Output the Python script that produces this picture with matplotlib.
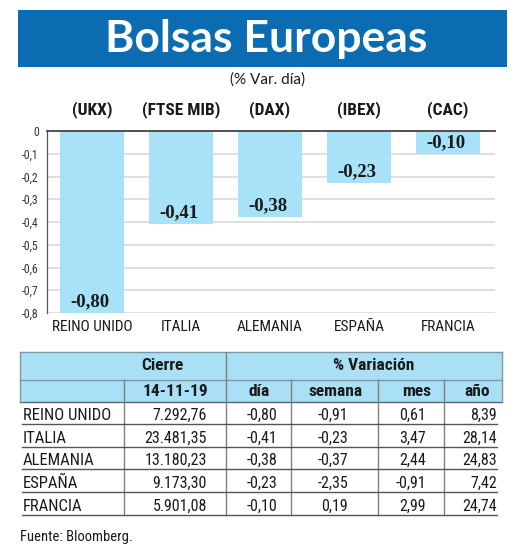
import numpy as np
import matplotlib
matplotlib.use("Agg")
import matplotlib.pyplot as plt
from matplotlib import font_manager as fm
from matplotlib.patches import Rectangle

# ---------------- data ----------------
countries = ["REINO UNIDO", "ITALIA", "ALEMANIA", "ESPAÑA", "FRANCIA"]
tickers = ["(UKX)", "(FTSE MIB)", "(DAX)", "(IBEX)", "(CAC)"]
cierre = ["7.292,76", "23.481,35", "13.180,23", "9.173,30", "5.901,08"]
dia = [-0.80, -0.41, -0.38, -0.23, -0.10]
semana = [-0.91, -0.23, -0.37, -2.35, 0.19]
mes = [0.61, 3.47, 2.44, -0.91, 2.99]
ano = [8.39, 28.14, 24.83, 7.42, 24.74]
yticks = [0, -0.1, -0.2, -0.3, -0.4, -0.5, -0.6, -0.7, -0.8]
title = "Bolsas Europeas"
subtitle = "(% Var. día)"
fecha = "14-11-19"
source = "Fuente: Bloomberg."

def fmt(v, dec=2):
    return f"{v:.{dec}f}".replace(".", ",")

names = {f.name for f in fm.fontManager.ttflist}
COND = "Lato"
for cand in ["Liberation Sans Narrow", "Roboto Condensed", "Open Sans Condensed",
             "Noto Sans Condensed", "Arial Narrow"]:
    if cand in names:
        COND = cand
        break
SANS = "Lato"

W, H = 520, 557
fig = plt.figure(figsize=(W / 100, H / 100), dpi=100)
fig.patch.set_facecolor("white")

bg = fig.add_axes([0, 0, 1, 1])
bg.set_xlim(0, W)
bg.set_ylim(H, 0)
bg.axis("off")

BLUE = "#0b6cb2"
LIGHT = "#a7e2f8"
HEAD = "#a9e0f6"
TXT = "#1a1a1a"

# title band
bg.add_patch(Rectangle((18, 10), 489, 57, color=BLUE, lw=0))
bg.text(266, 39, title, color="white", fontsize=32, fontweight="bold",
        family=SANS, ha="center", va="center")
bg.text(268, 80, subtitle, color=TXT, fontsize=11, family=SANS,
        ha="center", va="center")

# ---------------- chart ----------------
ax = fig.add_axes([47 / W, 1 - 313 / H, (495 - 47) / W, (313 - 131) / H])
ax.set_facecolor("none")
x = np.arange(len(dia))
ax.bar(x, dia, width=0.72, color=LIGHT, zorder=2)
ax.set_xlim(-0.506, 4.53)
ax.set_ylim(-0.8, 0)
ax.set_yticks(yticks)
ax.set_yticklabels(["0" if t == 0 else fmt(t, 1) for t in yticks],
                   fontsize=8.5, family=COND, color="#333333")
ax.yaxis.grid(True, color="#d9d9d9", lw=1.2)
ax.set_axisbelow(True)
ax.tick_params(axis="y", length=0, pad=6)
ax.set_xticks(x)
ax.set_xticklabels(countries, fontsize=11, family=COND, color=TXT)
ax.tick_params(axis="x", length=0, pad=5)
for s in ["right", "bottom"]:
    ax.spines[s].set_visible(False)
ax.spines["top"].set_color("#444444")
ax.spines["top"].set_linewidth(1.3)
ax.spines["left"].set_color("#555555")
ax.spines["left"].set_linewidth(0.9)

for i, v in enumerate(dia):
    ax.annotate(fmt(v), xy=(i, v), xytext=(-1.5, 2), textcoords="offset points",
                ha="center", va="bottom", fontsize=13.5, fontweight="bold",
                family="Liberation Serif", color=TXT, zorder=3)
for i, t in enumerate(tickers):
    ax.text(i, 1 + 21 / 182, t, transform=ax.get_xaxis_transform(),
            ha="center", va="center", fontsize=12.5, fontweight="bold",
            family=COND, color=TXT)

# ---------------- table ----------------
bg.add_patch(Rectangle((20, 352), 482, 50, color=HEAD, lw=0))
LINEC = "#7f97a3"
bg.plot([20, 502], [352, 352], color=LINEC, lw=1)
bg.plot([20, 502], [380, 380], color=LINEC, lw=1)
bg.plot([20, 502], [402, 402], color="#556670", lw=1)
bg.plot([20, 20], [352, 402], color=LINEC, lw=1)
bg.plot([502, 502], [352, 402], color=LINEC, lw=1)

bg.text(162, 366, "Cierre", fontsize=12.5, fontweight="bold", family=COND,
        ha="center", va="center", color=TXT)
bg.text(374, 366, "% Variación", fontsize=12.5, fontweight="bold", family=COND,
        ha="center", va="center", color=TXT)
heads2 = [(175, fecha), (259, "día"), (336, "semana"), (417, "mes"), (477, "año")]
for hx, ht in heads2:
    bg.text(hx, 392, ht, fontsize=12.5, fontweight="bold", family=COND,
            ha="center", va="center", color=TXT)

VC = "#808080"
bg.plot([124, 124], [380, 515], color=VC, lw=1)
bg.plot([226, 226], [352, 515], color=VC, lw=1)
for vx in [291, 378, 444]:
    bg.plot([vx, vx], [380, 515], color=VC, lw=1)

row_bottoms = [424, 447, 469, 492, 515]
right_edges = [207, 277, 348, 426, 497]
for r in range(len(countries)):
    yb = row_bottoms[r]
    yc = yb - 8.5
    bg.plot([22, 497], [yb, yb], color="#555555", lw=1)
    bg.text(23, yc, countries[r], fontsize=12, family=COND, ha="left",
            va="center", color=TXT)
    vals = [cierre[r], fmt(dia[r]), fmt(semana[r]), fmt(mes[r]), fmt(ano[r])]
    for xr, val in zip(right_edges, vals):
        bg.text(xr, yc, val, fontsize=11.5, family=COND, ha="right",
                va="center", color=TXT)

bg.text(20, 537, source, fontsize=10.5, family=COND, ha="left", va="center",
        color=TXT)

fig.savefig("out.png", dpi=100, facecolor="white")
